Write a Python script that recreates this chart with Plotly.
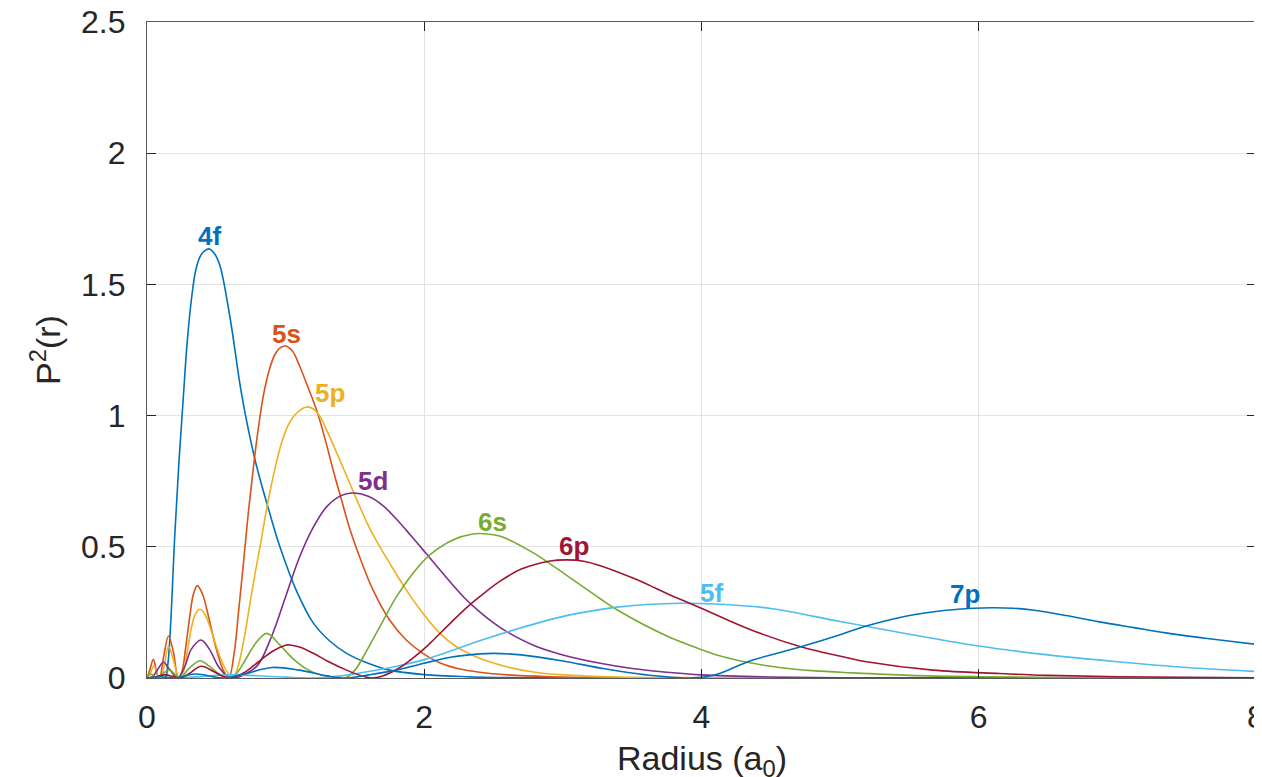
import plotly.graph_objects as go

# ---------------- data ----------------
orbitals = ["4f", "5s", "5p", "5d", "6s", "5f", "6p", "7p"]

r_4f = [0, 0.08, 0.13, 0.15, 0.17, 0.20, 0.23, 0.262, 0.29, 0.322, 0.35, 0.382, 0.415, 0.45, 0.49,
        0.527, 0.60, 0.683, 0.78, 0.887, 0.96, 1.08, 1.20, 1.32, 1.44, 1.60, 1.75, 2.0, 2.3, 2.7, 3.2, 8.0]
p_4f = [0, 0, 0.0, 0.05, 0.20, 0.54, 0.82, 1.07, 1.28, 1.45, 1.55, 1.605, 1.628, 1.635, 1.615,
        1.57, 1.37, 1.08, 0.83, 0.625, 0.498, 0.33, 0.209, 0.14, 0.094, 0.055, 0.03, 0.013, 0.005, 0.001, 0, 0]

r_5s = [0, 0.02, 0.046, 0.075, 0.09, 0.12, 0.155, 0.19, 0.225, 0.25, 0.28, 0.31, 0.335, 0.363, 0.40,
        0.45, 0.50, 0.55, 0.59, 0.63, 0.66, 0.695, 0.73, 0.767, 0.80, 0.839, 0.88, 0.92, 0.96, 1.0,
        1.05, 1.10, 1.16, 1.224, 1.29, 1.344, 1.40, 1.465, 1.56, 1.63, 1.75, 1.87, 1.99, 2.11, 2.25,
        2.4, 2.6, 2.9, 3.3, 4.0, 8.0]
p_5s = [0, 0.03, 0.071, 0.01, 0, 0.08, 0.16, 0.10, 0, 0.02, 0.12, 0.24, 0.32, 0.352, 0.32,
        0.22, 0.11, 0.03, 0, 0.10, 0.25, 0.434, 0.625, 0.80, 0.94, 1.075, 1.17, 1.23, 1.258, 1.265,
        1.245, 1.19, 1.11, 1.02, 0.90, 0.79, 0.685, 0.565, 0.425, 0.336, 0.221, 0.145, 0.094, 0.058, 0.035,
        0.022, 0.012, 0.005, 0.001, 0, 0]

r_5p = [0, 0.025, 0.05, 0.08, 0.10, 0.125, 0.155, 0.19, 0.23, 0.26, 0.29, 0.32, 0.35, 0.382, 0.42,
        0.47, 0.52, 0.57, 0.62, 0.66, 0.70, 0.743, 0.78, 0.827, 0.87, 0.924, 0.97, 1.02, 1.08, 1.152,
        1.20, 1.248, 1.30, 1.369, 1.44, 1.513, 1.60, 1.68, 1.75, 1.87, 1.99, 2.11, 2.23, 2.4, 2.6,
        2.8, 3.0, 3.4, 4.0, 5.0, 8.0]
p_5p = [0, 0.02, 0.045, 0.01, 0, 0.05, 0.12, 0.07, 0, 0.02, 0.10, 0.19, 0.245, 0.262, 0.24,
        0.17, 0.09, 0.03, 0, 0.05, 0.15, 0.285, 0.40, 0.535, 0.665, 0.80, 0.895, 0.965, 1.01, 1.033,
        1.025, 0.997, 0.94, 0.858, 0.77, 0.68, 0.577, 0.50, 0.438, 0.336, 0.247, 0.172, 0.12, 0.075, 0.042,
        0.022, 0.012, 0.004, 0.001, 0, 0]

r_5d = [0, 0.04, 0.08, 0.118, 0.16, 0.22, 0.27, 0.32, 0.39, 0.45, 0.52, 0.60, 0.70, 0.80, 0.90,
        1.0, 1.1, 1.2, 1.3, 1.4, 1.48, 1.6, 1.7, 1.8, 1.9, 2.0, 2.1, 2.2, 2.3, 2.4, 2.5, 2.6, 2.8,
        3.0, 3.27, 3.5, 3.75, 4.0, 4.5, 5.0, 8.0]
p_5d = [0, 0.005, 0.035, 0.06, 0.035, 0, 0.04, 0.11, 0.145, 0.11, 0.04, 0, 0.012, 0.05, 0.16,
        0.31, 0.46, 0.575, 0.655, 0.695, 0.705, 0.692, 0.658, 0.605, 0.545, 0.483, 0.42, 0.358, 0.30, 0.252,
        0.21, 0.175, 0.122, 0.088, 0.056, 0.036, 0.022, 0.012, 0.004, 0.001, 0]

r_6s = [0, 0.03, 0.06, 0.10, 0.16, 0.21, 0.24, 0.30, 0.382, 0.45, 0.52, 0.60, 0.65, 0.70, 0.78,
        0.864, 0.96, 1.05, 1.15, 1.25, 1.35, 1.43, 1.50, 1.56, 1.68, 1.80, 1.92, 2.04, 2.21, 2.35,
        2.43, 2.55, 2.79, 3.03, 3.27, 3.39, 3.75, 3.99, 4.11, 4.35, 4.59, 4.80, 5.07, 5.5, 6.0, 7.0, 8.0]
p_6s = [0, 0.015, 0, 0.01, 0.03, 0.01, 0, 0.035, 0.066, 0.045, 0.015, 0, 0.02, 0.06, 0.13,
        0.17, 0.125, 0.075, 0.035, 0.012, 0.002, 0, 0.03, 0.081, 0.196, 0.31, 0.40, 0.469, 0.527, 0.549,
        0.55, 0.54, 0.476, 0.39, 0.302, 0.26, 0.16, 0.11, 0.088, 0.058, 0.038, 0.028, 0.02, 0.01, 0.005,
        0.001, 0]

r_5f = [0, 0.3, 0.6, 0.9, 1.2, 1.4, 1.6, 1.8, 2.0, 2.2, 2.4, 2.67, 2.98, 3.2, 3.39, 3.6, 3.85,
        4.1, 4.5, 5.0, 5.5, 6.0, 6.5, 7.0, 7.5, 8.0]
p_5f = [0, 0.003, 0.012, 0.006, 0, 0.008, 0.025, 0.045, 0.07, 0.105, 0.142, 0.187, 0.232, 0.255,
        0.27, 0.28, 0.285, 0.282, 0.265, 0.215, 0.167, 0.122, 0.088, 0.062, 0.04, 0.025]

r_6p = [0, 0.05, 0.13, 0.20, 0.24, 0.30, 0.39, 0.48, 0.55, 0.60, 0.70, 0.80, 0.90, 1.0, 1.03,
        1.1, 1.2, 1.3, 1.44, 1.55, 1.62, 1.70, 1.825, 1.99, 2.066, 2.2, 2.31, 2.4, 2.55, 2.7, 2.91,
        3.03, 3.15, 3.27, 3.51, 3.63, 3.75, 3.99, 4.35, 4.71, 5.07, 5.19, 5.67, 6.15, 6.5, 7.0, 8.0]
p_6p = [0, 0.003, 0.012, 0.004, 0, 0.015, 0.045, 0.025, 0.006, 0, 0.02, 0.06, 0.10, 0.125, 0.126,
        0.118, 0.094, 0.065, 0.03, 0.008, 0, 0.008, 0.04, 0.107, 0.145, 0.215, 0.27, 0.31, 0.37, 0.415, 0.446,
        0.45, 0.445, 0.428, 0.38, 0.352, 0.322, 0.268, 0.185, 0.12, 0.075, 0.062, 0.03, 0.017, 0.01, 0.005, 0.001]

r_7p = [0, 0.1, 0.2, 0.35, 0.55, 0.7, 0.9, 1.1, 1.3, 1.43, 1.6, 1.8, 1.99, 2.2, 2.4, 2.5, 2.7,
        3.0, 3.3, 3.6, 3.92, 4.1, 4.35, 4.71, 5.0, 5.17, 5.5, 5.75, 5.96, 6.1, 6.25, 6.4, 6.63, 6.87,
        7.12, 7.35, 7.6, 7.83, 8.0]
p_7p = [0, 0.005, 0, 0.015, 0, 0.015, 0.04, 0.03, 0.008, 0, 0.012, 0.03, 0.055, 0.08, 0.092, 0.094, 0.088,
        0.065, 0.035, 0.012, 0, 0.012, 0.065, 0.118, 0.165, 0.195, 0.238, 0.257, 0.266, 0.268, 0.266, 0.258,
        0.238, 0.214, 0.192, 0.172, 0.154, 0.139, 0.128]

x_ticks = [0, 2, 4, 6, 8]
y_ticks = [0, 0.5, 1, 1.5, 2, 2.5]
y_tick_text = ["0", "0.5", "1", "1.5", "2", "2.5"]

# ---------------- styling ----------------
colors = {"4f": "#0072BD", "5s": "#D95319", "5p": "#EDB120", "5d": "#7E2F8E",
          "6s": "#77AC30", "5f": "#4DBEEE", "6p": "#A2142F", "7p": "#0072BD"}
# label offset from each curve's peak, in pixels (dx, dy up)
label_shift = {"4f": (0, 13), "5s": (1, 12), "5p": (23, 14), "5d": (21, 12),
               "6s": (9, 12), "5f": (31, 10), "6p": (7, 14), "7p": (-28, 14)}

series = {"4f": (r_4f, p_4f), "5s": (r_5s, p_5s), "5p": (r_5p, p_5p), "5d": (r_5d, p_5d),
          "6s": (r_6s, p_6s), "5f": (r_5f, p_5f), "6p": (r_6p, p_6p), "7p": (r_7p, p_7p)}

FONT = "Liberation Sans, Arial, Helvetica, sans-serif"

fig = go.Figure()
annotations = []
for name in orbitals:
    rr, pp = series[name]
    fig.add_trace(go.Scatter(x=rr, y=pp, mode="lines", name=name,
                             line=dict(color=colors[name], width=1.6, shape="spline", smoothing=1.0),
                             showlegend=False))
    k = max(range(len(pp)), key=lambda i: pp[i])
    dx, dy = label_shift[name]
    annotations.append(dict(x=rr[k], y=pp[k], xref="x", yref="y", text=name, showarrow=False,
                            xanchor="center", yanchor="middle", xshift=dx, yshift=dy,
                            font=dict(family=FONT, size=26, color=colors[name], weight="bold")))

annotations.append(dict(x=0.5, y=-0.126, xref="paper", yref="paper", text="Radius (a<sub>0</sub>)",
                        showarrow=False, xanchor="center", yanchor="middle",
                        font=dict(family=FONT, size=34, color="#262626")))
annotations.append(dict(x=-0.092, y=0.5, xref="paper", yref="paper", text="P<sup>2</sup>(r)",
                        showarrow=False, xanchor="center", yanchor="middle", textangle=-90,
                        font=dict(family=FONT, size=34, color="#262626")))

axis_common = dict(showgrid=True, gridcolor="#e3e3e3", gridwidth=1, zeroline=False,
                   showline=True, linecolor="#5a5a5a", linewidth=1.2, mirror="ticks",
                   ticks="inside", ticklen=9, tickcolor="#262626", tickwidth=1.2,
                   automargin=False, ticklabeloverflow="allow",
                   tickfont=dict(family=FONT, size=32, color="#262626"))

# The page body has an 8 px default margin, so the figure is sized 8 px smaller
# than the 1262x777 window and its margins are measured from that offset.
fig.update_layout(
    width=1254, height=769,
    margin=dict(l=139, r=6, t=14, b=99),
    paper_bgcolor="white", plot_bgcolor="white",
    xaxis=dict(range=[0, 8], tickvals=x_ticks, ticktext=[str(v) for v in x_ticks],
               ticklabelstandoff=10, **axis_common),
    yaxis=dict(range=[0, 2.5], tickvals=y_ticks, ticktext=y_tick_text,
               ticklabelstandoff=14, **axis_common),
    annotations=annotations,
)

fig.write_html("out.html")
